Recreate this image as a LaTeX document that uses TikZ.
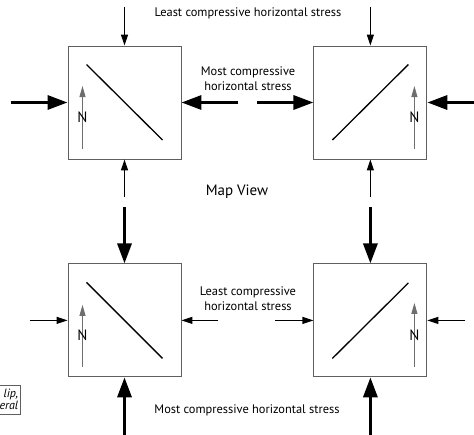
\documentclass[tikz,border=0pt]{standalone}
\usepackage{fontspec}
\setmainfont{PT Sans}
\usepackage{tikz}
\usetikzlibrary{positioning,arrows.meta,calc}
\definecolor{framec}{RGB}{95,95,95}
\definecolor{northc}{RGB}{110,110,110}
\tikzset{
  block/.style    = {draw=framec, line width=0.9pt, minimum size=113pt, inner sep=0pt},
  fault/.style    = {draw=black, line width=1.3pt},
  bigpush/.style  = {-{Triangle[length=20pt, width=14pt]}, line width=3.2pt},
  smallpush/.style= {-{Triangle[length=11pt, width=7pt]}, line width=1.1pt},
  northarr/.style = {-{Triangle[length=11pt, width=6pt]}, draw=northc, line width=0.9pt},
  lbl/.style      = {font=\fontsize{12.4}{15}\selectfont, align=center, inner sep=0pt},
  northlbl/.style = {font=\fontsize{15}{15}\selectfont, inner sep=0pt},
  sense/.style    = {draw=framec, line width=0.8pt, font=\fontsize{12}{12.5}\selectfont\itshape,
                     align=right, inner sep=2pt, anchor=east},
}

\begin{document}
\begin{tikzpicture}[x=1pt, y=-1pt]
\useasboundingbox (0,0) rectangle (474,434);
\clip (0,0) rectangle (474,434);

% ---- the four map-view blocks ----
\node[block] (nw) at (124.5,102.5) {};
\node[block, right=132pt of nw] (ne) {};
\node[block, below=104pt of nw] (sw) {};
\node[block, right=132pt of sw] (se) {};

% ---- fault traces ----
\draw[fault] ($(nw.center)+(-38,-38)$) -- ($(nw.center)+(38,37.5)$);
\draw[fault] ($(ne.center)+(-38,37.5)$) -- ($(ne.center)+(38,-38)$);
\draw[fault] ($(sw.center)+(-38,-38)$) -- ($(sw.center)+(38,38)$);
\draw[fault] ($(se.center)+(-38,38)$) -- ($(se.center)+(38,-37.5)$);

% ---- north arrows ----
\draw[northarr] ($(nw.center)+(-42,46.5)$) -- ($(nw.center)+(-42,-16.5)$);
\node[northlbl] (nwN) at ($(nw.center)+(-42,14.5)$) {N};
\draw[northarr] ($(ne.center)+(44,46.5)$) -- ($(ne.center)+(44,-16.5)$);
\node[northlbl] (neN) at ($(ne.center)+(44,14.5)$) {N};
\draw[northarr] ($(sw.center)+(-42,46.5)$) -- ($(sw.center)+(-42,-15.5)$);
\node[northlbl] (swN) at ($(sw.center)+(-42,14.5)$) {N};
\draw[northarr] ($(se.center)+(44,46.5)$) -- ($(se.center)+(44,-17.5)$);
\node[northlbl] (seN) at ($(se.center)+(44,14.5)$) {N};

% ---- arrow tails ----
\coordinate[above=39pt of nw.north] (nwT);
\coordinate[left=57pt of nw.west] (nwL);
\coordinate[right=57pt of nw.east] (nwR);
\coordinate[below=38pt of nw.south] (nwB);
\coordinate[above=39pt of ne.north] (neT);
\coordinate[left=56pt of ne.west] (neL);
\coordinate[right=52pt of ne.east] (neR);
\coordinate[below=38pt of ne.south] (neB);
\coordinate[above=56pt of sw.north] (swT);
\coordinate[left=38pt of sw.west] (swL);
\coordinate[right=37pt of sw.east] (swR);
\coordinate[below=62pt of sw.south] (swB);
\coordinate[above=56pt of se.north] (seT);
\coordinate[left=38pt of se.west] (seL);
\coordinate[right=38pt of se.east] (seR);
\coordinate[below=62pt of se.south] (seB);

% ---- upper pair: sigma_H east-west ----
\draw[smallpush] (nwT) -- (nw.north);
\draw[bigpush] (nwL) -- (nw.west);
\draw[bigpush] (nwR) -- (nw.east);
\draw[smallpush] (nwB) -- (nw.south);
\draw[smallpush] (neT) -- (ne.north);
\draw[bigpush] (neL) -- (ne.west);
\draw[bigpush] (neR) -- (ne.east);
\draw[smallpush] (neB) -- (ne.south);

% ---- lower pair: sigma_H north-south ----
\draw[bigpush] (swT) -- (sw.north);
\draw[smallpush] (swL) -- (sw.west);
\draw[smallpush] (swR) -- (sw.east);
\draw[bigpush] (swB) -- (sw.south);
\draw[bigpush] (seT) -- (se.north);
\draw[smallpush] (seL) -- (se.west);
\draw[smallpush] (seR) -- (se.east);
\draw[bigpush] (seB) -- (se.south);

% ---- labels ----
\node[lbl] (topmin) at (248,13) {Least compressive horizontal stress};
\node[lbl] (topmax) at (248,79) {Most compressive\\horizontal stress};
\node[lbl, font=\fontsize{15}{16}\selectfont] (view) at (237,192) {Map View};
\node[lbl] (botmin) at (248,299) {Least compressive\\horizontal stress};
\node[lbl] (botmax) at (247,410) {Most compressive horizontal stress};
\node[sense, minimum height=29pt] (kind) at (20.5,399.5) {lip,\\eral};

\end{tikzpicture}
\end{document}
